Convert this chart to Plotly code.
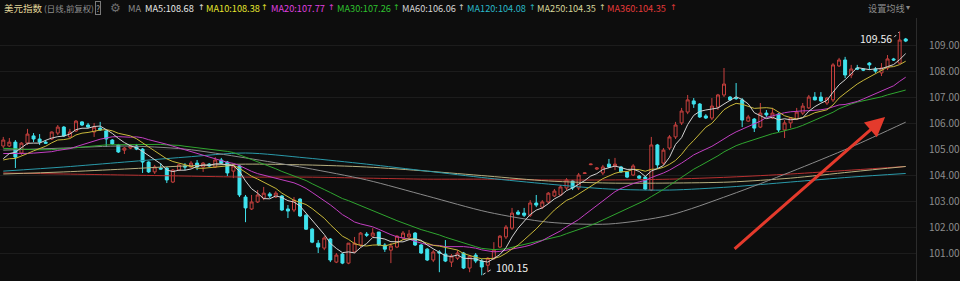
import plotly.graph_objects as go
import pandas as pd

# ---------------- data ----------------
opens = [105.14,105.14,105.29,104.87,105.25,105.53,105.41,105.29,105.41,105.64,
         105.87,105.49,105.72,106.07,105.95,105.68,105.83,105.72,105.37,105.18,
         104.98,105.06,105.14,105.02,104.52,104.14,104.29,104.29,103.75,104.21,
         104.37,104.33,104.48,104.33,104.44,104.33,104.60,104.52,104.17,104.37,
         103.17,102.71,102.98,103.13,103.29,103.17,103.21,102.71,102.67,103.09,
         102.47,101.93,101.39,101.20,101.55,100.66,100.97,100.62,101.05,101.32,
         101.74,101.66,101.82,101.32,101.12,101.24,101.59,101.63,101.78,101.32,
         101.16,100.74,101.05,100.97,100.66,100.81,101.01,100.43,100.93,100.70,
         100.54,100.81,101.24,101.63,101.97,102.59,102.55,102.47,102.94,102.78,
         102.98,103.21,103.25,103.52,103.79,103.52,104.08,104.42,104.25,104.10,
         104.44,104.37,104.33,104.14,104.02,103.98,103.94,103.44,105.18,104.48,
         105.06,105.49,106.03,106.45,106.88,106.76,106.30,106.22,106.64,107.11,
         107.03,107.00,106.92,106.10,106.18,105.87,106.41,106.22,106.37,105.76,
         106.03,106.18,106.41,106.61,107.03,107.03,106.80,106.92,108.23,108.46,
         107.88,108.15,108.11,108.34,108.11,107.96,108.15,108.50,108.34,109.27]
highs = [105.49,105.45,105.37,105.29,105.80,105.64,105.60,105.37,105.70,105.95,
         105.91,105.80,106.14,106.10,106.03,106.03,106.07,105.76,105.41,105.22,
         105.10,105.22,105.22,105.06,104.55,104.41,104.48,104.33,104.25,104.44,
         104.48,104.56,104.60,104.52,104.48,104.71,104.68,104.56,104.44,104.41,
         103.25,103.25,103.44,103.56,103.36,103.40,103.25,102.86,103.17,103.13,
         102.51,101.97,101.51,101.66,101.59,101.01,101.01,101.39,101.63,101.82,
         101.82,101.97,101.82,101.39,101.39,101.70,101.86,101.90,101.82,101.36,
         101.20,101.12,101.12,101.51,100.97,101.12,101.05,100.93,101.01,100.78,
         100.85,101.43,101.70,102.09,102.75,102.67,102.75,103.05,103.25,103.05,
         103.36,103.48,103.63,103.90,103.83,104.10,104.12,104.46,104.33,104.41,
         104.64,104.68,104.37,104.17,104.44,104.02,103.98,105.49,105.22,105.06,
         105.56,106.07,106.61,107.11,106.99,106.80,106.37,106.99,107.15,108.15,
         107.07,107.57,106.99,106.34,106.22,106.80,106.53,106.61,106.41,106.14,
         106.26,106.61,106.80,107.11,107.22,107.22,107.03,108.34,108.54,108.58,
         108.27,108.27,108.15,108.38,108.19,108.34,108.65,108.54,109.56,109.31]
lows = [105.06,105.10,104.29,104.80,105.18,105.29,105.18,105.22,105.37,105.56,
        105.49,105.45,105.68,105.91,105.83,105.49,105.72,105.10,105.18,104.87,
        104.83,105.02,104.98,104.10,104.10,104.06,104.23,103.71,103.71,104.17,
        104.21,104.29,104.21,104.14,104.33,104.29,104.44,103.98,103.90,103.17,
        102.20,102.67,102.94,103.05,103.13,103.13,102.63,102.36,102.59,102.40,
        101.90,101.39,101.01,101.12,100.66,100.62,100.58,100.58,101.01,101.24,
        101.63,101.63,101.28,101.05,100.62,101.20,101.51,101.59,101.28,100.97,
        100.70,100.66,100.27,100.66,100.47,100.74,100.39,100.27,100.62,100.15,
        100.27,100.74,101.20,101.55,101.90,102.47,102.40,102.40,102.78,102.71,
        102.90,103.17,103.21,103.44,103.44,103.44,104.06,104.40,104.21,104.02,
        104.29,104.21,104.10,103.90,103.98,103.87,103.44,103.40,104.29,104.41,
        104.98,105.41,105.95,106.37,106.61,106.22,106.18,106.14,106.53,107.03,
        106.88,106.92,105.87,106.07,105.68,105.83,106.26,106.18,105.68,105.45,
        105.83,106.14,106.34,106.57,106.90,106.84,106.72,106.84,108.19,107.76,
        107.76,108.07,108.03,108.07,107.96,107.84,108.07,108.42,108.31,109.15]
closes = [105.37,105.29,104.71,105.25,105.60,105.41,105.29,105.25,105.68,105.87,
          105.53,105.68,106.10,105.95,105.87,105.87,105.76,105.41,105.22,104.91,
          105.06,105.14,105.02,104.52,104.14,104.33,104.25,103.83,104.21,104.41,
          104.33,104.48,104.33,104.48,104.37,104.60,104.48,104.10,104.37,103.25,
          102.75,102.98,103.25,103.32,103.21,103.32,102.67,102.63,103.05,102.44,
          101.93,101.43,101.24,101.59,100.74,100.93,100.62,101.39,101.39,101.78,
          101.70,101.78,101.32,101.16,101.28,101.66,101.78,101.74,101.32,101.01,
          100.74,101.05,101.01,100.70,100.89,101.01,100.43,100.89,100.70,100.47,
          100.81,101.12,101.66,102.01,102.55,102.51,102.47,102.94,102.86,102.98,
          103.32,103.40,103.56,103.83,103.52,104.02,104.10,104.44,104.29,104.33,
          104.33,104.44,104.14,103.94,104.37,103.90,103.48,105.18,104.41,104.98,
          105.49,105.95,106.49,106.92,106.76,106.26,106.22,106.68,107.11,107.53,
          106.92,106.97,106.14,106.26,105.83,106.41,106.34,106.41,105.76,106.03,
          106.22,106.45,106.68,107.03,106.92,106.88,106.99,108.27,108.46,107.88,
          108.11,108.11,108.07,108.27,108.03,108.15,108.50,108.46,109.23,109.19]
# closes before the visible window (only used to start the short averages)
prior_closes = [105.60,105.75,105.55,105.40,105.50,105.45,105.35,105.40,105.30,105.20,
                105.30,105.15,105.25,105.05,105.20,105.10,104.95,105.05,104.90,105.05,
                104.80,104.60,104.45,104.50,104.40,
                104.30,104.45,104.35,104.78]

long_ma_idx = [0,10,20,30,40,50,60,70,80,90,100,110,120,130,140,149]
ma60 = [104.98,105.06,105.14,105.02,104.68,104.29,103.83,103.21,102.59,102.20,102.13,102.47,103.25,104.14,105.10,106.06]
ma120 = [104.17,104.33,104.52,104.71,104.87,104.68,104.44,104.17,103.90,103.67,103.48,103.44,103.56,103.75,103.94,104.08]
ma250 = [104.06,104.14,104.25,104.37,104.44,104.41,104.33,104.17,103.98,103.79,103.71,103.71,103.75,103.90,104.14,104.35]
ma360 = [104.10,104.06,104.02,103.98,103.94,103.94,103.90,103.86,103.86,103.83,103.83,103.86,103.94,104.06,104.21,104.35]

tick_vals = [101,102,103,104,105,106,107,108,109]
tick_text = ["101.00","102.00","103.00","104.00","105.00","106.00","107.00","108.00","109.00"]

legend_items = [("MA5:108.68", "#e6e6e6"), ("MA10:108.38", "#e6e62e"), ("MA20:107.77", "#e040e0"),
                ("MA30:107.26", "#2fc02f"), ("MA60:106.06", "#d6d6d6"), ("MA120:104.08", "#2ab8c8"),
                ("MA250:104.35", "#d8d89c"), ("MA360:104.35", "#e53a3a")]
legend_x = [144, 205, 270, 337, 402, 468, 538, 608]
arrow_x = [197, 260, 328, 393, 458, 530, 600, 672]

low_label = "100.15"
high_label = "109.56"

# ---------------- figure ----------------
BG = "#0d0d0d"
W, H = 960, 281
ML, MR, MT, MB = 0, 39, 18, 0
PW, PH = W - ML - MR, H - MT - MB
idx = list(range(len(closes)))

all_closes = pd.Series(prior_closes + closes)
n_prior = len(prior_closes)
def sma(n):
    return all_closes.rolling(n, min_periods=1).mean().iloc[n_prior:].tolist()

fig = go.Figure()
fig.add_trace(go.Candlestick(
    x=idx, open=opens, high=highs, low=lows, close=closes,
    increasing=dict(line=dict(color="#c8403e", width=1), fillcolor="rgba(0,0,0,0)"),
    decreasing=dict(line=dict(color="#3fe3ee", width=1), fillcolor="#3fe3ee"),
    whiskerwidth=0, hoverinfo="skip", showlegend=False))

for vals, color in [(ma360, "#b83030"), (ma250, "#b8b080"), (ma120, "#2a9aaa"), (ma60, "#8a8a8a")]:
    fig.add_trace(go.Scatter(x=long_ma_idx, y=vals, mode="lines",
                             line=dict(color=color, width=1, shape="spline", smoothing=0.8),
                             hoverinfo="skip", showlegend=False))
for n, color in [(30, "#2fa52f"), (20, "#c23fc2"), (10, "#c8b83a"), (5, "#d2d2d2")]:
    fig.add_trace(go.Scatter(x=idx, y=sma(n), mode="lines",
                             line=dict(color=color, width=1),
                             hoverinfo="skip", showlegend=False))

def px_x(px):
    return (px - ML) / PW
def px_y(py):
    return (H - MB - py) / PH

CJK = "Noto Sans CJK SC"
ann = []
def text_at(t, x, color, size=9.2, family=CJK, **kw):
    ann.append(dict(text=t, x=px_x(x), y=px_y(7.5), xref="paper", yref="paper",
                    xanchor="left", yanchor="middle", showarrow=False,
                    font=dict(color=color, size=size, family=family), **kw))

text_at("美元指数", 2, "#e2d69a", size=9.5)
text_at("(日线,前复权)", 42, "#8f8f8f", size=8.4)
text_at("?", 96, "#9a9a9a", size=8.5, bordercolor="#7a7a7a", borderwidth=1, borderpad=0)
text_at("⚙", 109, "#6f6f6f", size=12, family="DejaVu Sans")
text_at("MA", 127, "#8a8a8a", size=9.2)
for (t, c), lx, ax in zip(legend_items, legend_x, arrow_x):
    text_at(t, lx, c, size=9.2)
    text_at("↑", ax, c, size=8, family="DejaVu Sans")
text_at("设置均线", 871, "#8a8a8a", size=9.2)
text_at("▾", 909, "#8a8a8a", size=8, family="DejaVu Sans")

# price labels for extremes
low_i = lows.index(min(lows))
high_i = highs.index(max(highs))
ann.append(dict(text=low_label, x=low_i + 2.0, y=min(lows) + 0.30, xref="x", yref="y",
                xanchor="left", yanchor="middle", showarrow=False,
                font=dict(color="#f0f0f0", size=10.5, family=CJK)))
ann.append(dict(text=high_label, x=high_i - 1.0, y=max(highs) - 0.27, xref="x", yref="y",
                xanchor="right", yanchor="middle", showarrow=False,
                font=dict(color="#f0f0f0", size=10.5, family=CJK)))
# red trend arrow
ann.append(dict(text="", x=145.6, y=106.26, ax=120.5, ay=101.12, xref="x", yref="y",
                axref="x", ayref="y", showarrow=True, arrowhead=2, arrowsize=1.3,
                arrowwidth=3, arrowcolor="#e43a2c", standoff=0))

shapes = [
    dict(type="line", xref="x", yref="y", x0=low_i + 0.2, y0=min(lows) + 0.03,
         x1=low_i + 1.8, y1=min(lows) + 0.25, line=dict(color="#cfcfcf", width=1, dash="dot")),
    dict(type="line", xref="x", yref="y", x0=high_i - 0.9, y0=max(highs) - 0.22,
         x1=high_i - 0.1, y1=max(highs) - 0.02, line=dict(color="#cfcfcf", width=1, dash="dot")),
]

fig.update_layout(
    width=W, height=H, margin=dict(l=ML, r=MR, t=MT, b=MB),
    paper_bgcolor=BG, plot_bgcolor=BG,
    annotations=ann, shapes=shapes, showlegend=False,
    xaxis=dict(range=[-0.54, 150.7], showgrid=False, zeroline=False, showticklabels=False,
               rangeslider=dict(visible=False), fixedrange=True),
    yaxis=dict(range=[99.93, 110.08], side="right", tickvals=tick_vals, ticktext=tick_text,
               showgrid=True, gridcolor="#1c1c1c", gridwidth=1, zeroline=False,
               showline=True, linecolor="#2c2c2c", linewidth=1, ticks="",
               ticklabelstandoff=10,
               tickfont=dict(color="#8c8c8c", size=10, family=CJK), fixedrange=True),
)

fig.write_html("out.html")
